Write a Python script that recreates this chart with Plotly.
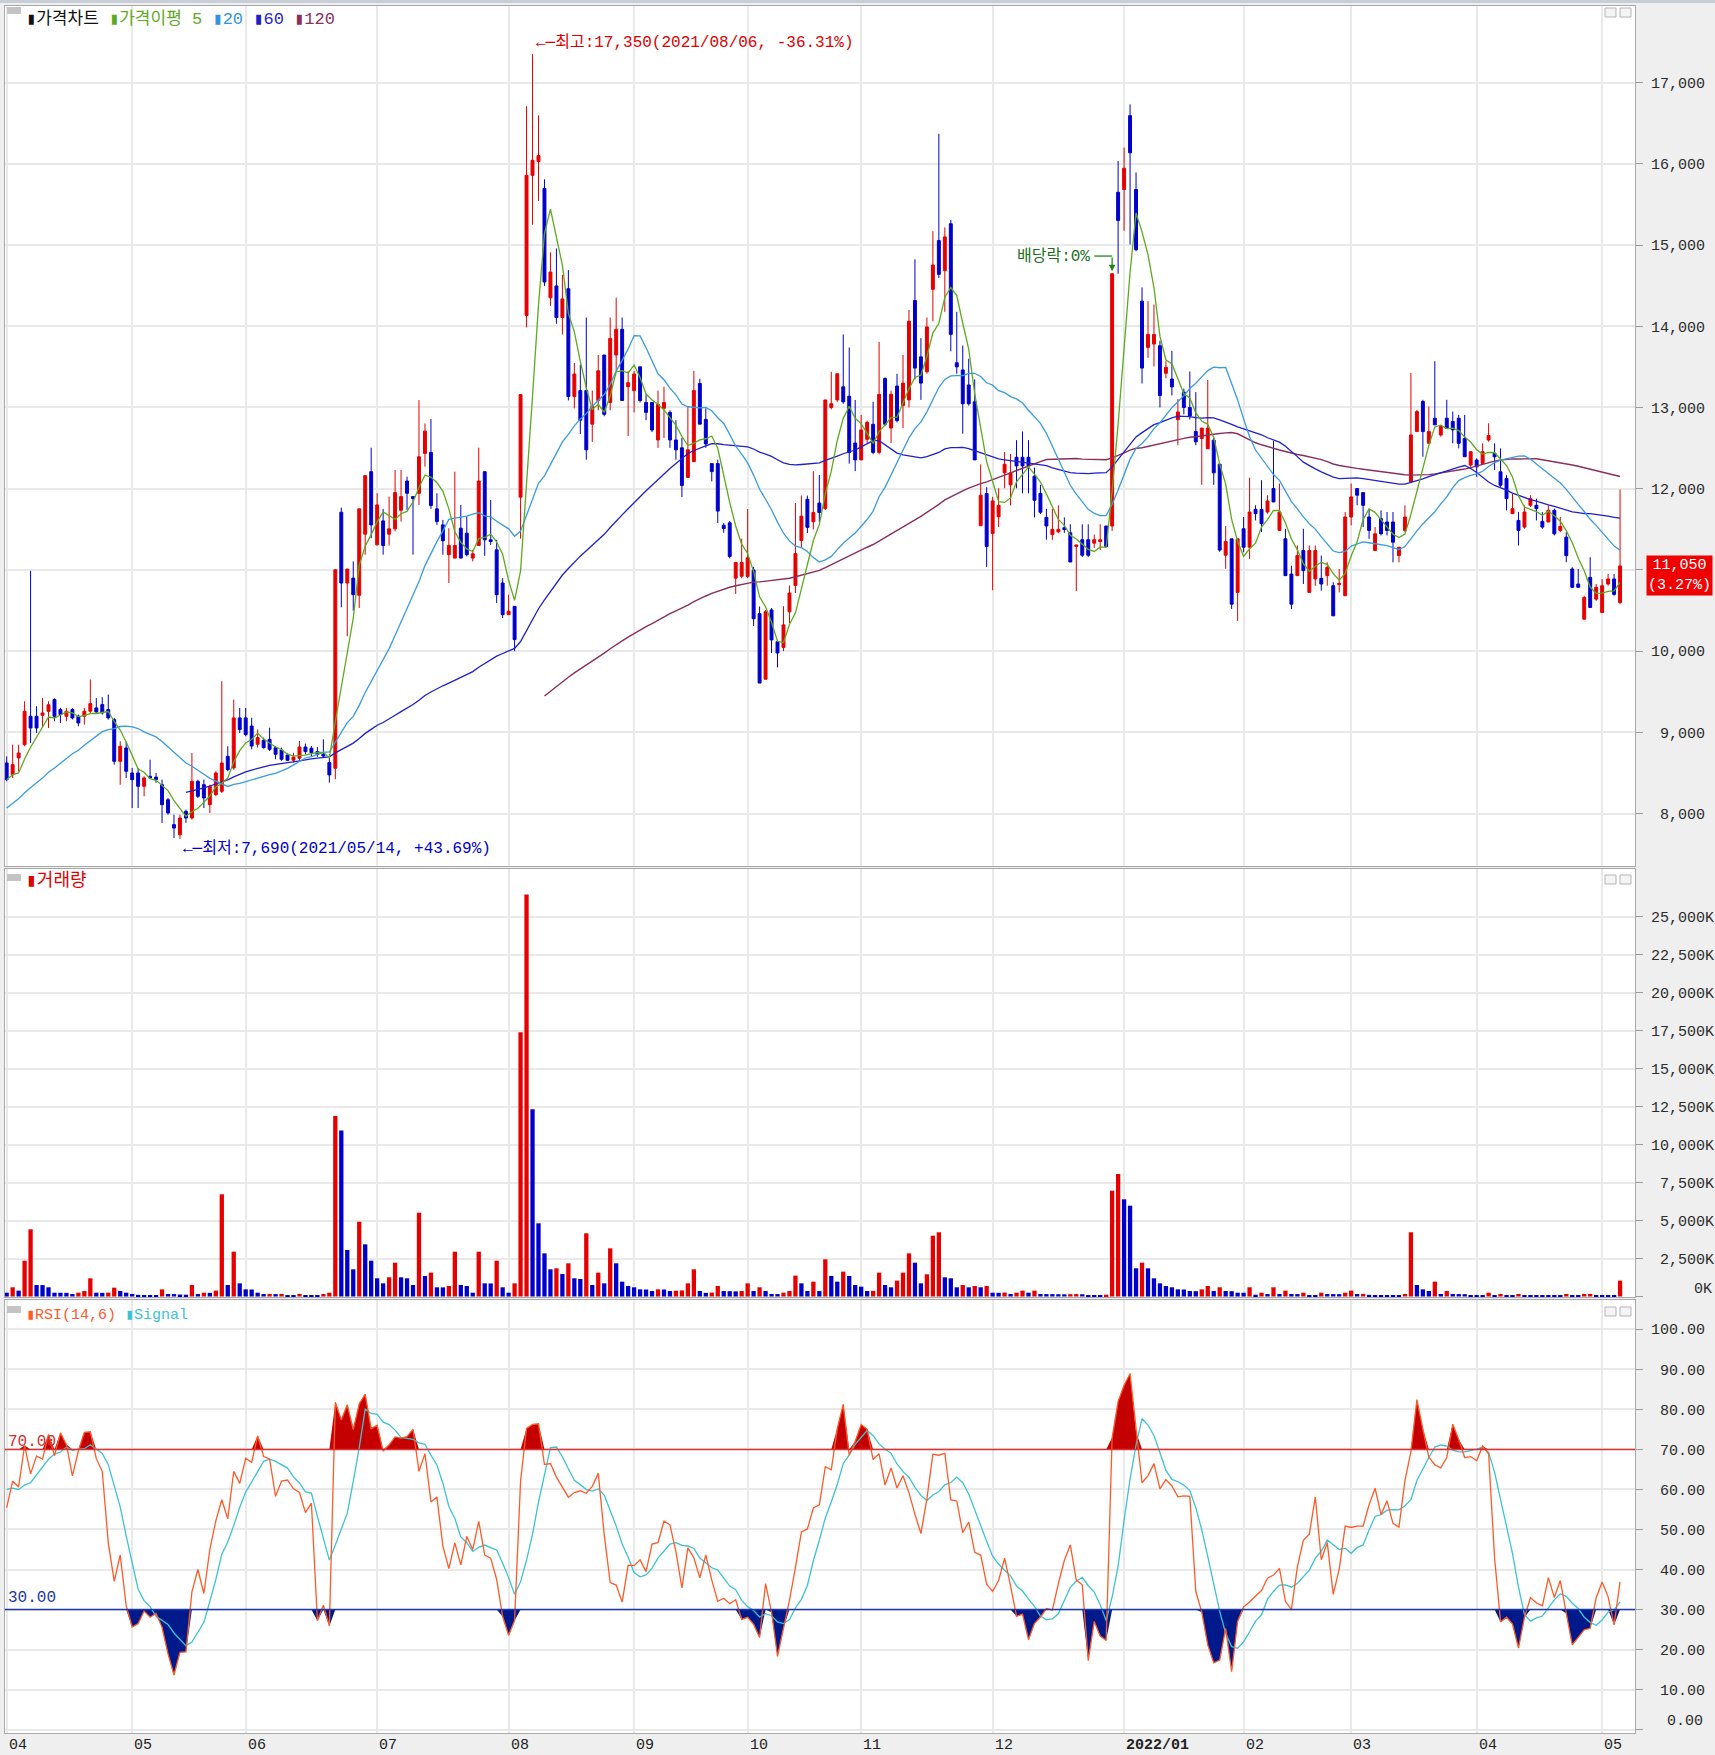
import pandas as pd
import numpy as np
import plotly.graph_objects as go

W, H = 1715, 1755

# ---------------- data ----------------
HOLIDAYS = ["2021-05-05", "2021-05-19", "2021-08-16", "2021-09-20", "2021-09-21", "2021-09-22",
            "2021-10-04", "2021-10-11", "2021-12-31", "2022-01-31", "2022-02-01", "2022-02-02",
            "2022-03-01", "2022-03-09", "2022-05-05"]
dates = [d.strftime("%Y-%m-%d") for d in pd.bdate_range("2021-04-02", "2022-05-06")
         if d.strftime("%Y-%m-%d") not in HOLIDAYS]

opens = [
    8624, 8480, 8686, 8850, 9199, 9199, 9211, 9260, 9404, 9281,
    9199, 9281, 9199, 9199, 9261, 9302, 9343, 9281, 9158, 8645,
    8809, 8501, 8501, 8337, 8460, 8450, 8357, 8172, 7865, 7741,
    8029, 7947, 8398, 8357, 8111, 8234, 8275, 8706, 8563, 9179,
    9179, 9079, 8854, 8903, 8915, 8813, 8784, 8723, 8657, 8682,
    8821, 8805, 8764, 8731, 8629, 8559, 11711, 10839, 10900, 10688,
    11441, 12210, 11310, 11604, 11441, 11506, 11735, 12095, 11903, 11944,
    12435, 12447, 11752, 11555, 11188, 11146, 11514, 11453, 11146, 11301,
    12210, 11371, 11248, 10839, 10450, 10552, 11896, 14132, 15858, 16028,
    15697, 14350, 14496, 14107, 14462, 13135, 13208, 13208, 12795, 13086,
    13646, 13062, 13646, 13962, 13256, 13208, 13500, 13062, 13062, 12600,
    12990, 12940, 12600, 12503, 12139, 12333, 13295, 12853, 12309, 12309,
    11550, 11580, 10899, 10923, 10920, 11000, 10462, 9655, 10508, 10116,
    10047, 10485, 10808, 11362, 11870, 11593, 11824, 11754, 13000, 13093,
    13254, 13139, 12562, 12355, 12608, 12793, 12447, 13356, 12747, 13264,
    13023, 13093, 14316, 13623, 13439, 14454, 15054, 14685, 15262, 13550,
    13462, 13277, 13070, 11545, 11940, 11450, 11655, 12196, 12048, 12387,
    12387, 12387, 12154, 11943, 11647, 11436, 11470, 11520, 11457, 11290,
    11372, 11372, 11330, 11350, 11541, 11541, 15649, 15683, 16592, 15683,
    14309, 13739, 13781, 13760, 13422, 13350, 12851, 13189, 13000, 12704,
    12619, 12492, 12598, 12302, 11182, 11383, 10724, 11507, 11280, 11746,
    11746, 11713, 12002, 11487, 11383, 10950, 10930, 11239, 10724, 10889,
    10897, 10930, 10806, 10820, 10683, 11652, 12002, 11952, 11652, 11239,
    11631, 11590, 11590, 11177, 11487, 12085, 12703, 13074, 12559, 12868,
    12662, 12868, 12827, 12868, 12620, 12291, 12353, 12311, 12600, 12435,
    12208, 12126, 11693, 11610, 11528, 11796, 11796, 11598, 11590, 11734,
    11487, 11404, 11012, 10827, 10394, 10909, 10641, 10476, 10827, 10889,
    10600]

highs = [
    8706, 8850, 8850, 9384, 10990, 9322, 9425, 9384, 9420, 9302,
    9302, 9300, 9220, 9302, 9651, 9425, 9433, 9466, 9179, 8891,
    8891, 8563, 8563, 8460, 8665, 8500, 8419, 8193, 7988, 7988,
    8050, 8747, 8419, 8419, 8357, 8522, 9630, 8830, 9404, 9302,
    9302, 9181, 9038, 8936, 9058, 8833, 8813, 8740, 8750, 8895,
    8862, 8833, 8821, 8915, 8731, 11003, 11768, 11011, 11105, 11752,
    12161, 12505, 11944, 11752, 11903, 12230, 12230, 12148, 11903, 13090,
    12803, 12857, 11944, 11616, 11514, 12210, 11801, 11657, 11248, 12505,
    12210, 11862, 11371, 10900, 10696, 10552, 13159, 16708, 17350, 16597,
    15809, 14910, 14958, 14633, 14691, 13548, 13525, 14107, 13208, 13646,
    13646, 14107, 14351, 14107, 13451, 13451, 13500, 13160, 13062, 13208,
    13256, 12965, 12843, 12625, 13014, 13451, 13354, 12989, 12309, 12357,
    11579, 11604, 11093, 11385, 11750, 11039, 10550, 10508, 10531, 10139,
    10554, 10808, 11824, 11916, 11916, 12216, 12170, 13093, 13439, 13415,
    13900, 13738, 13093, 12908, 12839, 13070, 13808, 13370, 13208, 13415,
    13646, 14200, 14823, 13854, 14108, 15170, 16369, 15216, 15308, 14177,
    13762, 13600, 13346, 12300, 12020, 11900, 12006, 12450, 12427, 12598,
    12704, 12598, 12260, 12048, 11752, 11752, 11795, 11647, 11562, 11308,
    11562, 11562, 11436, 11562, 11541, 14647, 16034, 16199, 16731, 15894,
    14478, 14309, 14267, 13823, 13570, 13697, 13105, 13232, 13443, 13189,
    12746, 13338, 12640, 12302, 11541, 11383, 11383, 11652, 12136, 11796,
    12105, 11920, 12588, 12064, 11507, 11053, 11301, 11507, 11301, 11301,
    11177, 11094, 10848, 11012, 11713, 12064, 12002, 11952, 11755, 11528,
    11734, 11713, 11713, 11280, 11796, 13425, 12970, 13095, 13012, 13569,
    12786, 13095, 12950, 12909, 12909, 12456, 12373, 12559, 12806, 12559,
    12497, 12167, 11940, 11713, 11796, 11920, 11878, 11713, 11796, 11755,
    11652, 11466, 11033, 11012, 10683, 11156, 10827, 10889, 10950, 10950,
    11990]

lows = [
    8398, 8439, 8520, 8830, 8871, 8994, 9055, 9055, 9138, 9117,
    9138, 9160, 9076, 9096, 9240, 9240, 9220, 9158, 8604, 8357,
    8439, 8070, 8070, 8214, 8430, 8380, 7885, 7988, 7700, 7690,
    7885, 7926, 8193, 8070, 8008, 8214, 8255, 8522, 8542, 8994,
    8953, 8792, 8813, 8800, 8772, 8670, 8650, 8650, 8630, 8657,
    8731, 8710, 8700, 8690, 8383, 8424, 10540, 10184, 10499, 10532,
    11188, 11391, 11300, 11188, 11301, 11474, 11596, 11739, 11188, 11800,
    12271, 11752, 11555, 11188, 10839, 11146, 11146, 11167, 11105, 11301,
    11174, 11309, 10594, 10409, 10450, 10000, 11385, 13986, 15250, 15541,
    14496, 14250, 14030, 13899, 13087, 12989, 12673, 12357, 12576, 12965,
    12892, 12965, 13451, 13086, 12649, 12940, 13062, 12843, 12697, 12503,
    12625, 12503, 12357, 11896, 12139, 12333, 12795, 12503, 12090, 11579,
    11457, 11142, 10705, 10899, 10899, 10310, 9608, 9655, 9978, 9800,
    10000, 10347, 10716, 11270, 11455, 11501, 11593, 11740, 12977, 13070,
    13046, 12309, 12217, 12355, 12562, 12424, 12424, 12770, 12562, 12816,
    12747, 13000, 13346, 13093, 13416, 14062, 14593, 14177, 13692, 13416,
    12677, 13023, 12355, 11540, 11037, 10750, 11530, 12006, 11795, 12006,
    11943, 11943, 11647, 11689, 11372, 11372, 11450, 11457, 11098, 10740,
    11160, 11160, 11270, 11245, 11288, 11480, 14647, 15176, 15007, 14922,
    13295, 13612, 13506, 13000, 13359, 13147, 12535, 12915, 12851, 12535,
    12048, 12492, 12048, 11224, 11015, 10520, 10373, 11219, 11136, 11610,
    11466, 11693, 11837, 11487, 10930, 10518, 10930, 10827, 10724, 10806,
    10745, 10806, 10435, 10724, 10683, 11549, 11796, 11528, 11383, 11239,
    11425, 11425, 11094, 11094, 11466, 12085, 12703, 12394, 12559, 12786,
    12641, 12744, 12559, 12497, 12394, 12270, 12146, 12311, 12579, 12229,
    12023, 11734, 11693, 11301, 11507, 11775, 11610, 11507, 11590, 11425,
    11466, 11094, 10786, 10786, 10394, 10538, 10620, 10476, 10806, 10683,
    10579]

closes = [
    8419, 8604, 8747, 9261, 9055, 9055, 9240, 9340, 9199, 9220,
    9261, 9179, 9117, 9261, 9355, 9253, 9240, 9179, 8645, 8830,
    8522, 8419, 8337, 8440, 8440, 8420, 8111, 8008, 7823, 7947,
    7947, 8398, 8214, 8193, 8337, 8501, 8624, 8542, 9179, 9035,
    8973, 8833, 8936, 8813, 8792, 8731, 8670, 8657, 8698, 8821,
    8764, 8752, 8731, 8710, 8477, 11003, 10839, 11011, 10696, 11752,
    12161, 11555, 11801, 11301, 11506, 11952, 11903, 11944, 11880, 12394,
    12709, 11793, 11596, 11359, 11301, 11301, 11146, 11188, 11199, 12095,
    11371, 11350, 10696, 10450, 10491, 10143, 13159, 15858, 16042, 16100,
    14545, 14667, 14107, 14336, 13135, 13412, 12843, 12479, 13014, 13451,
    12916, 13850, 13962, 13086, 13305, 13412, 13086, 12940, 12722, 13038,
    13062, 12600, 12479, 12041, 12479, 13208, 12795, 12552, 12211, 11725,
    11510, 11166, 11093, 11093, 11150, 10400, 9608, 10485, 10139, 9978,
    10324, 10716, 11201, 11662, 11524, 11708, 11708, 13093, 13046, 13415,
    13070, 12447, 12355, 12724, 12816, 12447, 13162, 12793, 13162, 12839,
    13300, 14062, 13485, 13300, 13992, 14754, 14639, 15100, 13900, 13500,
    13046, 13046, 12355, 11920, 11290, 11850, 11795, 12302, 12196, 12281,
    12281, 12281, 11858, 11710, 11541, 11499, 11499, 11499, 11098, 11308,
    11182, 11182, 11372, 11372, 11288, 14647, 15303, 15945, 16135, 14943,
    13485, 13899, 13899, 13147, 13494, 13253, 12945, 13000, 12894, 12577,
    12746, 12746, 12196, 11245, 11351, 10579, 11383, 11280, 11713, 11693,
    11569, 11849, 11837, 11713, 10930, 10579, 11177, 10992, 11239, 11239,
    10827, 11033, 10435, 10835, 11652, 11899, 11920, 11796, 11487, 11445,
    11445, 11487, 11342, 11280, 11652, 12662, 12950, 12703, 12703, 12786,
    12765, 12744, 12724, 12559, 12394, 12456, 12270, 12456, 12654, 12394,
    12043, 11878, 11755, 11487, 11713, 11878, 11755, 11528, 11734, 11445,
    11536, 11177, 10786, 10786, 10662, 10538, 10786, 10806, 10889, 10700,
    11050]

# volume, thousands of shares
volume_k = [
    250, 605, 386, 2355, 4421, 757, 750, 605, 250, 245,
    240, 164, 250, 360, 1197, 250, 240, 255, 580, 360,
    250, 164, 110, 100, 90, 85, 470, 164, 160, 130,
    120, 757, 160, 250, 240, 386, 6724, 757, 2948, 866,
    470, 460, 250, 164, 170, 160, 170, 90, 80, 170,
    100, 90, 80, 164, 250, 11870, 10913, 3059, 1789, 4921,
    3433, 2355, 1197, 866, 1263, 2224, 1263, 1197, 757, 5513,
    1351, 1570, 605, 600, 690, 2948, 757, 690, 250, 2948,
    866, 860, 2355, 605, 250, 866, 17393, 26450, 12312, 4815,
    2838, 1789, 1855, 1482, 2184, 1197, 1150, 4158, 757, 1570,
    866, 3167, 2184, 976, 690, 605, 470, 460, 360, 470,
    460, 360, 380, 400, 866, 1789, 360, 240, 260, 690,
    360, 350, 340, 360, 866, 360, 605, 360, 164, 160,
    250, 360, 1373, 866, 360, 976, 360, 2447, 1351, 976,
    1636, 1351, 757, 647, 360, 370, 1570, 757, 605, 1043,
    1570, 2838, 2224, 866, 1460, 4000, 4224, 1263, 1197, 605,
    757, 605, 690, 605, 690, 250, 245, 260, 164, 250,
    386, 250, 386, 164, 160, 155, 150, 145, 155, 160,
    150, 90, 85, 80, 120, 6961, 8059, 6394, 5974, 1855,
    2224, 1855, 1197, 866, 690, 605, 470, 460, 360, 350,
    470, 690, 360, 605, 360, 350, 250, 245, 605, 120,
    250, 164, 605, 164, 386, 164, 160, 250, 100, 90,
    250, 164, 160, 155, 250, 386, 164, 170, 110, 100,
    95, 90, 85, 80, 164, 4224, 757, 470, 360, 976,
    164, 360, 164, 160, 155, 100, 95, 90, 250, 100,
    164, 100, 95, 164, 100, 95, 90, 85, 80, 75,
    70, 164, 100, 95, 164, 170, 100, 95, 90, 85,
    1043]

# closes before the visible window (listing ~2021-02-19 .. 2021-04-01),
# estimated from where the 20/60/120-day averages start in the picture
pre_close = [7400, 7150, 7000, 6950, 7050, 7100, 7000, 6980, 7120, 7200,
             7450, 7600, 7800, 7750, 7900, 8100, 7900, 8150, 7950, 8200,
             8000, 8250, 8050, 8200, 8000, 8299, 8642, 8400, 8335]

month_labels = ["04", "05", "06", "07", "08", "09", "10", "11", "12", "2022/01", "02", "03", "04", "05"]
price_ticks = [8000, 9000, 10000, 11000, 12000, 13000, 14000, 15000, 16000, 17000]
volume_ticks = [0, 2500, 5000, 7500, 10000, 12500, 15000, 17500, 20000, 22500, 25000]
rsi_ticks = [0, 10, 20, 30, 40, 50, 60, 70, 80, 90, 100]

n = len(closes)
assert len(dates) == n == len(opens) == len(highs) == len(lows) == len(volume_k), (len(dates), n)

# ---------------- indicators ----------------
npre = len(pre_close)
s = pd.Series(pre_close + closes, dtype=float)


def sma(k):
    return s.rolling(k).mean().iloc[npre:].tolist()


ma5, ma20, ma60, ma120 = sma(5), sma(20), sma(60), sma(120)
delta = s.diff()
au = delta.clip(lower=0).rolling(14).mean()
ad = (-delta).clip(lower=0).rolling(14).mean()
rsi_full = 100 * au / (au + ad)
sig_full = rsi_full.rolling(6).mean()
rsi = rsi_full.iloc[npre:].to_numpy()
sig = sig_full.iloc[npre:].to_numpy()

RED = "#e60000"
BLUE = "#0000cc"
vol_colors = [BLUE] + [RED if volume_k[i] > volume_k[i - 1] else BLUE for i in range(1, n)]

month_idx = [0]
for i in range(1, n):
    if dates[i][:7] != dates[i - 1][:7]:
        month_idx.append(i)
month_dates = [dates[i] for i in month_idx]

last = closes[-1]


def px(v):
    return v / W


def py(v):
    return 1 - v / H


NB = "\u00a0"


def rj(txt, width):
    # right-align a label in the monospace axis font
    return NB * (width - len(txt)) + txt


MFONT = "Liberation Mono, DejaVu Sans Mono, monospace"
MKFONT = "Liberation Mono, Noto Sans CJK KR, monospace"
GRID = "#e9e9e9"
PAPER = "#efefef"
AXFONT = dict(family=MFONT, size=15, color="#2b2b2b")

fig = go.Figure()

fig.add_trace(go.Candlestick(
    x=dates, open=opens, high=highs, low=lows, close=closes,
    increasing=dict(line=dict(color=RED, width=1), fillcolor=RED),
    decreasing=dict(line=dict(color=BLUE, width=1), fillcolor=BLUE),
    whiskerwidth=0, xaxis="x", yaxis="y", showlegend=False, hoverinfo="skip"))

for vals, col, w in [(ma120, "#8a2f5c", 1.4), (ma60, "#1f1fcc", 1.3), (ma20, "#3a9be0", 1.3), (ma5, "#5eaa1e", 1.3)]:
    fig.add_trace(go.Scatter(x=dates, y=vals, mode="lines", line=dict(color=col, width=w),
                             xaxis="x", yaxis="y", showlegend=False, hoverinfo="skip"))

fig.add_trace(go.Bar(x=dates, y=volume_k, marker=dict(color=vol_colors, line=dict(width=0)),
                     xaxis="x2", yaxis="y2", showlegend=False, hoverinfo="skip"))

# RSI fills
fig.add_trace(go.Scatter(x=dates, y=[70] * n, mode="lines", line=dict(width=0, color="rgba(0,0,0,0)"),
                         xaxis="x3", yaxis="y3", showlegend=False, hoverinfo="skip"))
fig.add_trace(go.Scatter(x=dates, y=np.maximum(rsi, 70), mode="lines", line=dict(width=0, color="rgba(0,0,0,0)"),
                         fill="tonexty", fillcolor="#c40000", xaxis="x3", yaxis="y3", showlegend=False, hoverinfo="skip"))
fig.add_trace(go.Scatter(x=dates, y=[30] * n, mode="lines", line=dict(width=0, color="rgba(0,0,0,0)"),
                         xaxis="x3", yaxis="y3", showlegend=False, hoverinfo="skip"))
fig.add_trace(go.Scatter(x=dates, y=np.minimum(rsi, 30), mode="lines", line=dict(width=0, color="rgba(0,0,0,0)"),
                         fill="tonexty", fillcolor="#001a8c", xaxis="x3", yaxis="y3", showlegend=False, hoverinfo="skip"))
fig.add_trace(go.Scatter(x=dates, y=sig, mode="lines", line=dict(color="#3cc3d3", width=1.3),
                         xaxis="x3", yaxis="y3", showlegend=False, hoverinfo="skip"))
fig.add_trace(go.Scatter(x=dates, y=rsi, mode="lines", line=dict(color="#ff5a28", width=1.3),
                         xaxis="x3", yaxis="y3", showlegend=False, hoverinfo="skip"))

xdom = [px(5), px(1635)]
xcommon = dict(type="category", domain=xdom, range=[-0.28, 272.5], showticklabels=False, automargin=False,
               tickmode="array", tickvals=month_dates, showgrid=True, gridcolor=GRID, gridwidth=2,
               ticks="", showline=True, linecolor="#a9a9a9", mirror=True, zeroline=False, fixedrange=True)
ycommon = dict(side="right", showgrid=True, gridcolor=GRID, gridwidth=2, ticks="outside", ticklen=7,
               tickcolor="#9a9a9a", showline=True, linecolor="#a9a9a9", mirror=True, zeroline=False,
               automargin=False, tickfont=AXFONT, ticklabelstandoff=5, fixedrange=True)

# the last-price tag covers the price tick label it sits on
price_text = ["" if abs(v - last) < 500 else rj(f"{v:,}", 6) for v in price_ticks]
# the lowest labels of the volume and RSI panels are lifted inside the panel (drawn below)
volume_text = ["" if v == 0 else rj(f"{v:,}K", 7) for v in volume_ticks]
rsi_text = ["" if v == 0 else rj(f"{v:.2f}", 6) for v in rsi_ticks]

fig.update_layout(
    width=W, height=H, margin=dict(l=0, r=0, t=0, b=0, pad=0, autoexpand=False), autosize=False,
    paper_bgcolor=PAPER, plot_bgcolor="white", boxgap=0.3, bargap=0.28,
    showlegend=False,
    xaxis=dict(**xcommon, anchor="y", rangeslider=dict(visible=False)),
    xaxis2=dict(**xcommon, anchor="y2", matches="x"),
    xaxis3=dict(**xcommon, anchor="y3", matches="x"),
    yaxis=dict(**ycommon, anchor="x", domain=[py(866), py(6)], range=[7356, 17942],
               tickvals=price_ticks, ticktext=price_text),
    yaxis2=dict(**ycommon, anchor="x2", domain=[py(1297), py(869)], range=[-33, 28125],
                tickvals=volume_ticks, ticktext=volume_text),
    yaxis3=dict(**ycommon, anchor="x3", domain=[py(1733), py(1300)], range=[-0.82, 107.3],
                tickvals=rsi_ticks, ticktext=rsi_text),
)

shapes = []
shapes.append(dict(type="rect", xref="paper", yref="paper", x0=0, x1=1, y0=py(3), y1=1,
                   fillcolor="#c9ced6", line=dict(width=0), layer="below"))
# 70 / 30 lines
shapes.append(dict(type="line", xref="x3 domain", yref="y3", x0=0, x1=1, y0=70, y1=70,
                   line=dict(color="#e03030", width=1.5)))
shapes.append(dict(type="line", xref="x3 domain", yref="y3", x0=0, x1=1, y0=30, y1=30,
                   line=dict(color="#1d37a6", width=1.5)))
# panel icons
for top in (7, 874, 1306):
    shapes.append(dict(type="rect", xref="paper", yref="paper", x0=px(7), x1=px(21), y0=py(top + 7), y1=py(top),
                       fillcolor="#c4c4c4", line=dict(width=0)))
    for bx in (1605, 1620):
        shapes.append(dict(type="rect", xref="paper", yref="paper", x0=px(bx), x1=px(bx + 11),
                           y0=py(top + 10), y1=py(top + 1), fillcolor="#f4f4f4",
                           line=dict(color="#b5b5b5", width=1)))

annotations = []
# headers
hdr = ("<span style='color:#111'>▮가격차트</span> <span style='color:#5eaa1e'>▮가격이평 5</span> "
       "<span style='color:#2f95e0'>▮20</span> <span style='color:#1f1fcc'>▮60</span> "
       "<span style='color:#8a2f5c'>▮120</span>")
annotations.append(dict(text=hdr, xref="paper", yref="paper", x=px(24), y=py(19), xanchor="left",
                        yanchor="middle", showarrow=False, font=dict(family=MKFONT, size=17)))
annotations.append(dict(text="<span style='color:#e00000'>▮거래량</span>", xref="paper", yref="paper",
                        x=px(24), y=py(881), xanchor="left", yanchor="middle", showarrow=False,
                        font=dict(family=MKFONT, size=18)))
annotations.append(dict(text="<span style='color:#ff5a28'>▮RSI(14,6)</span> <span style='color:#3cc3d3'>▮Signal</span>",
                        xref="paper", yref="paper", x=px(24), y=py(1315), xanchor="left", yanchor="middle",
                        showarrow=False, font=dict(family=MFONT, size=15)))

# lifted bottom tick labels
annotations.append(dict(text=rj("0K", 7), xref="paper", yref="paper", x=px(1647), y=py(1289.5),
                        xanchor="left", yanchor="middle", showarrow=False, font=AXFONT))
annotations.append(dict(text=rj("0.00", 6), xref="paper", yref="paper", x=px(1647), y=py(1721.5),
                        xanchor="left", yanchor="middle", showarrow=False, font=AXFONT))

# high / low markers
hi_i = int(np.argmax(highs))
lo_i = int(np.argmin(lows))
hi_pct = (last / highs[hi_i] - 1) * 100
lo_pct = (last / lows[lo_i] - 1) * 100
annotations.append(dict(text=f"←─최고:{highs[hi_i]:,}({dates[hi_i].replace('-', '/')}, {hi_pct:.2f}%)",
                        xref="x", yref="y", x=hi_i + 0.25, y=highs[hi_i] + 140, xanchor="left", yanchor="middle",
                        showarrow=False, font=dict(family=MKFONT, size=16, color="#e00000")))
annotations.append(dict(text=f"←─최저:{lows[lo_i]:,}({dates[lo_i].replace('-', '/')}, +{lo_pct:.2f}%)",
                        xref="x", yref="y", x=lo_i + 0.25, y=lows[lo_i] - 120, xanchor="left", yanchor="middle",
                        showarrow=False, font=dict(family=MKFONT, size=16, color="#0000cc")))

# ex-dividend marker
exd = dates.index("2021-12-29")
annotations.append(dict(text="배당락:0%", xref="x", yref="y", x=exd - 3.3, y=14864, xanchor="right",
                        yanchor="middle", showarrow=False, font=dict(family=MKFONT, size=16, color="#1b6e1b")))
shapes.append(dict(type="line", xref="x", yref="y", x0=exd - 3.0, x1=exd, y0=14864, y1=14864,
                   line=dict(color="#1b8a1b", width=1.3)))
annotations.append(dict(text="", xref="x", yref="y", x=exd, y=highs[exd] + 30, axref="x", ayref="y",
                        ax=exd, ay=14864, showarrow=True, arrowhead=2, arrowsize=1, arrowwidth=1.3,
                        arrowcolor="#1b8a1b"))

# last price tag
chg = (closes[-1] / closes[-2] - 1) * 100
annotations.append(dict(text=f"{last:,}<br>({chg:.2f}%)", xref="paper", yref="y", x=px(1646), y=last,
                        xanchor="left", yanchor="top", yshift=11, showarrow=False, bgcolor="#f00000",
                        borderpad=1, align="center", font=dict(family=MFONT, size=15, color="white")))

# RSI level labels
annotations.append(dict(text="70.00", xref="paper", yref="y3", x=px(6), y=70, xanchor="left", yanchor="bottom",
                        yshift=-4, showarrow=False, font=dict(family=MFONT, size=16, color="#d03030")))
annotations.append(dict(text="30.00", xref="paper", yref="y3", x=px(6), y=30, xanchor="left", yanchor="bottom",
                        yshift=1, showarrow=False, font=dict(family=MFONT, size=16, color="#1d37a6")))

# month labels
for lab, idx in zip(month_labels, month_idx):
    txt = f"<b>{lab}</b>" if "/" in lab else lab
    annotations.append(dict(text=txt, xref="x3", yref="paper", x=idx, y=py(1745), xanchor="left",
                            yanchor="middle", xshift=0, showarrow=False,
                            font=dict(family=MFONT, size=15, color="#222")))

fig.update_layout(shapes=shapes, annotations=annotations)

post = (
    "var gd=document.getElementById('{plot_id}');"
    "var de=document.documentElement, b=document.body;"
    "de.style.margin='0';b.style.margin='0';de.style.overflow='hidden';b.style.overflow='hidden';"
    "de.style.background='" + PAPER + "';b.style.background='" + PAPER + "';"
    "gd.style.position='fixed';gd.style.left='0px';gd.style.top='0px';"
)
fig.write_html("out.html", config={"displayModeBar": False, "responsive": False}, post_script=post)
